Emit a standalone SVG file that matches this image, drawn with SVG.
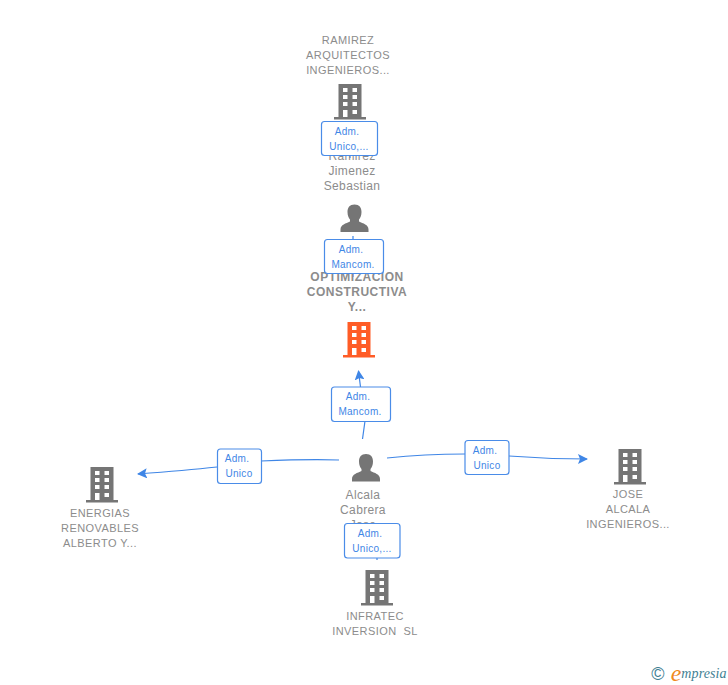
<svg xmlns="http://www.w3.org/2000/svg" width="728" height="685" viewBox="0 0 728 685">
<style>
text{font-family:"Liberation Sans",Arial,sans-serif;text-anchor:middle}
.co{font-size:11px;fill:#8c8c8c;letter-spacing:.42px}
.main{font-size:12px;font-weight:bold;fill:#8c8c8c;letter-spacing:.5px}
.pe{font-size:12px;fill:#8c8c8c;letter-spacing:.35px}
.lb rect{fill:#fff;stroke:#4a8ce8;stroke-width:1.2}
.lb text{font-size:10px;fill:#3f86e6;letter-spacing:.3px}
.c{fill:none;stroke:#3f86e6;stroke-width:1.2}
</style>
<defs>
<symbol id="b" overflow="visible"><path fill-rule="evenodd" d="M-11.500 0H11.500V33H16V35.500H-16V33H-11.500ZM-7 4V8H-2.500V4ZM2.500 4V8H7V4ZM-7 11V15H-2.500V11ZM2.500 11V15H7V11ZM-7 18V22H-2.500V18ZM2.500 18V22H7V18ZM-7 26V33H-2.500V26ZM2.500 26V30H7V26Z"/></symbol>
<symbol id="p" overflow="visible"><path d="M0 0C4.800 0 7 3 7 7.500C7 11 5.800 13.500 4.500 15V17C8.500 19 14 20 14 25V27.500H-14V25C-14 20 -8.500 19 -4.500 17V15C-5.800 13.500 -7 11 -7 7.500C-7 3 -4.800 0 0 0Z"/></symbol>
<marker id="ah" viewBox="0 0 10 10" refX="9" refY="5" markerWidth="10" markerHeight="10" markerUnits="userSpaceOnUse" orient="auto"><path d="M0 0L10 5L0 10L2 5Z" fill="#3f86e6"/></marker>
</defs>
<g id="connectors">
<path class="c" d="M350 155V158"/>
<path class="c" d="M353 236V240M353 274V277"/>
<path class="c" d="M362.500 439L365 421M360.500 387L358.500 371" marker-end="url(#ah)"/>
<path class="c" d="M339 460C310 459 285 460 261 461M217 467C190 470 165 472 138 474" marker-end="url(#ah)"/>
<path class="c" d="M387 458C415 455 440 454 465 454M509 456C535 458 560 459 587 459" marker-end="url(#ah)"/>
<path class="c" d="M377 558V560"/>
</g>
<g id="node-ramirez-arq"><use href="#b" x="350" y="84" fill="#757575"/><text class="co"><tspan x="348" y="44">RAMIREZ</tspan><tspan x="348" y="59">ARQUITECTOS</tspan><tspan x="348" y="74">INGENIEROS...</tspan></text></g>
<g id="node-ramirez-jimenez"><use href="#p" x="354.500" y="204.500" fill="#757575"/><text class="pe"><tspan x="352" y="160">Ramirez</tspan><tspan x="352" y="175">Jimenez</tspan><tspan x="352" y="190">Sebastian</tspan></text></g>
<g id="node-optimizacion"><use href="#b" x="359" y="322" fill="#ff5c26"/><text class="main"><tspan x="357" y="281">OPTIMIZACION</tspan><tspan x="357" y="296">CONSTRUCTIVA</tspan><tspan x="357" y="311">Y...</tspan></text></g>
<g id="node-alcala"><use href="#p" x="366" y="454" fill="#757575"/><text class="pe"><tspan x="363" y="499">Alcala</tspan><tspan x="363" y="514">Cabrera</tspan><tspan x="363" y="529">Jose</tspan></text></g>
<g id="node-energias"><use href="#b" x="102" y="467" fill="#757575"/><text class="co"><tspan x="100" y="517">ENERGIAS</tspan><tspan x="100" y="532">RENOVABLES</tspan><tspan x="100" y="547">ALBERTO Y...</tspan></text></g>
<g id="node-jose"><use href="#b" x="630" y="449" fill="#757575"/><text class="co"><tspan x="628" y="498">JOSE</tspan><tspan x="628" y="513">ALCALA</tspan><tspan x="628" y="528">INGENIEROS...</tspan></text></g>
<g id="node-infratec"><use href="#b" x="377" y="570" fill="#757575"/><text class="co"><tspan x="375" y="620">INFRATEC</tspan><tspan x="375" y="635" xml:space="preserve">INVERSION  SL</tspan></text></g>
<g id="labels">
<g class="lb"><rect x="321.500" y="121.500" width="56" height="34" rx="3"/><text><tspan x="347" y="135">Adm.</tspan><tspan x="349" y="150">Unico,...</tspan></text></g>
<g class="lb"><rect x="324.500" y="239.500" width="59" height="34" rx="3"/><text><tspan x="351" y="253">Adm.</tspan><tspan x="353" y="268">Mancom.</tspan></text></g>
<g class="lb"><rect x="331.500" y="387" width="59" height="34.500" rx="3"/><text><tspan x="358" y="400">Adm.</tspan><tspan x="360" y="415">Mancom.</tspan></text></g>
<g class="lb"><rect x="217.500" y="449" width="44" height="34.500" rx="3"/><text><tspan x="237" y="462">Adm.</tspan><tspan x="239" y="477">Unico</tspan></text></g>
<g class="lb"><rect x="465" y="440.500" width="44" height="34" rx="3"/><text><tspan x="485" y="454">Adm.</tspan><tspan x="487" y="469">Unico</tspan></text></g>
<g class="lb"><rect x="344.500" y="523.500" width="55.500" height="34.500" rx="3"/><text><tspan x="370" y="537">Adm.</tspan><tspan x="372" y="552">Unico,...</tspan></text></g>
</g>
<g id="logo">
<text x="658" y="680" style="font-size:18px;fill:#3f7f93">©</text>
<text x="676" y="681" style="font-size:24px;font-style:italic;fill:#f08a1d;font-family:'Liberation Serif',serif">e</text>
<text x="704" y="678" style="font-size:14px;font-style:italic;fill:#3f7f93;font-family:'Liberation Serif',serif;letter-spacing:.1px">mpresia</text>
</g>
</svg>
